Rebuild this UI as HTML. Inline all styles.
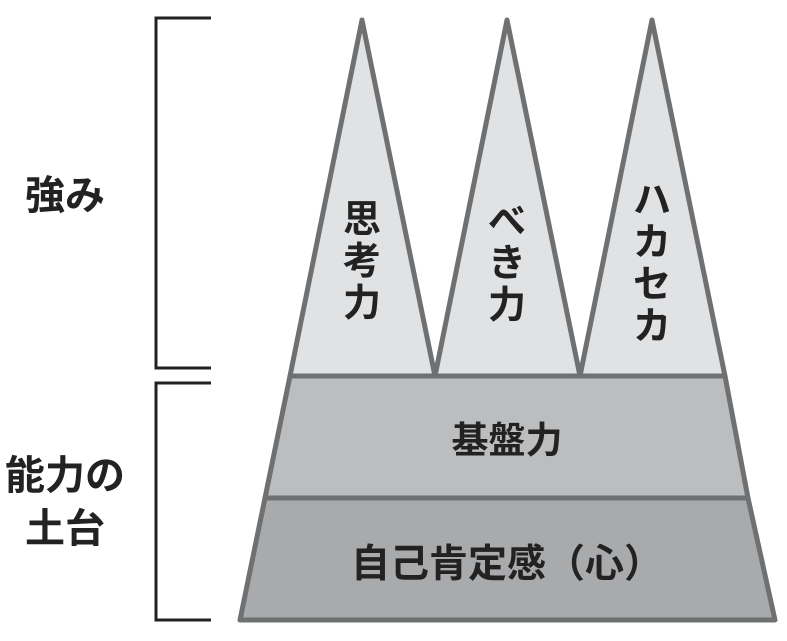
<!DOCTYPE html>
<html><head><meta charset="utf-8"><style>
body{margin:0;background:#fff;}
svg text{font-family:"Liberation Sans","Noto Sans CJK JP",sans-serif;font-weight:bold;fill:#222;}
</style></head><body>
<svg width="787" height="636" viewBox="0 0 787 636" xmlns="http://www.w3.org/2000/svg">
<g fill="none" stroke="#222" stroke-width="3">
<polyline points="211,18 156,18 156,368 211,368"/>
<polyline points="211,383 156,383 156,620 211,620"/>
</g>
<g stroke="#6f7072" stroke-width="5" stroke-linejoin="round">
<polygon points="240,620 775,620 748,498 265,498" fill="#a9aaac"/>
<polygon points="265,498 748,498 725,376 290,376" fill="#bcbdbf"/>
<polygon points="290,376 362,20 435,376" fill="#e1e2e4"/>
<polygon points="435,376 507,20 580,376" fill="#e1e2e4"/>
<polygon points="580,376 652,20 725,376" fill="#e1e2e4"/>
</g>
<g font-size="38" text-anchor="middle">
<text x="362" y="232">思</text><text x="362" y="274">考</text><text x="362" y="316">力</text>
<text x="507" y="234">べ</text><text x="507" y="276">き</text><text x="507" y="318">力</text>
<text x="652" y="213">ハ</text><text x="652" y="255">カ</text><text x="652" y="297">セ</text><text x="652" y="339">カ</text>
<text x="507" y="453" font-size="37">基盤力</text>
<text x="507" y="577" font-size="39">自己肯定感（心）</text>
<text x="65" y="209" font-size="40">強み</text>
<text x="65" y="489" font-size="40">能力の</text>
<text x="65" y="542" font-size="40">土台</text>
</g>
</svg>
</body></html>
